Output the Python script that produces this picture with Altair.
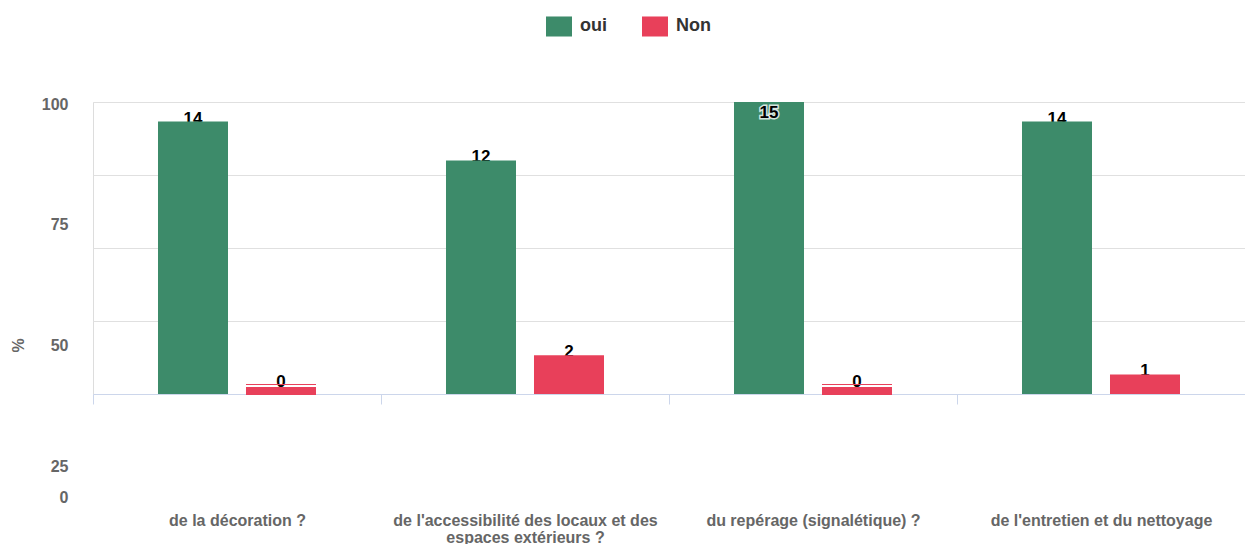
import altair as alt
import pandas as pd

categories = [
    "de la décoration ?",
    "de l'accessibilité des locaux et des\nespaces extérieurs ?",
    "du repérage (signalétique) ?",
    "de l'entretien et du nettoyage",
]
series = ["oui", "Non"]
oui_counts = [14, 12, 15, 14]
non_counts = [0, 2, 0, 1]
oui_pct = [93.3, 80.0, 100.0, 93.3]
non_pct = [0.0, 13.3, 0.0, 6.7]
y_ticks = [0, 25, 50, 75, 100]
colors = ["#3d8b6a", "#e8405a"]

rows = []
for i, c in enumerate(categories):
    rows.append({"cat": c, "serie": "oui", "count": oui_counts[i], "pct": oui_pct[i]})
    rows.append({"cat": c, "serie": "Non", "count": non_counts[i], "pct": non_pct[i]})
df = pd.DataFrame(rows)

FONT = "Liberation Sans"
GRAY = "#666666"

label_off = {
    "condition": [
        {"test": "datum.value == 75", "value": 49},
        {"test": "datum.value == 50", "value": 97},
        {"test": "datum.value == 25", "value": 145},
        {"test": "datum.value == 0", "value": 103},
    ],
    "value": 2,
}

x_enc = alt.X(
    "cat:N",
    sort=categories,
    scale=alt.Scale(paddingInner=0, paddingOuter=0),
    axis=alt.Axis(
        title=None,
        labelAngle=0,
        labelExpr="split(datum.label, '\\n')",
        labelFont=FONT,
        labelFontSize=16,
        labelFontWeight="bold",
        labelColor=GRAY,
        labelLineHeight=17,
        labelLimit=400,
        labelPadding=108,
        tickBand="extent",
        tickColor="#ccd6eb",
        tickSize=10,
        domainColor="#ccd6eb",
        grid=False,
    ),
)
xo_enc = alt.XOffset(
    "serie:N", sort=series, scale=alt.Scale(paddingInner=0.2045, paddingOuter=0.7386)
)
y_enc = alt.Y(
    "pct:Q",
    stack=None,
    scale=alt.Scale(domain=[0, 100], nice=False),
    axis=alt.Axis(
        values=y_ticks,
        title="%",
        titleX=-75,
        titleY=243,
        titleAngle=-90,
        titleAlign="center",
        titleBaseline="middle",
        titleFont=FONT,
        titleFontSize=16,
        titleFontWeight="bold",
        titleColor=GRAY,
        labelFont=FONT,
        labelFontSize=16,
        labelFontWeight="bold",
        labelColor=GRAY,
        labelPadding=25,
        labelOffset=label_off,
        ticks=False,
        domain=False,
        grid=True,
        gridColor="#e0e0e0",
    ),
)
color_enc = alt.Color(
    "serie:N",
    sort=series,
    scale=alt.Scale(domain=series, range=colors),
    legend=alt.Legend(
        title=None,
        orient="none",
        legendX=453,
        legendY=-89,
        direction="horizontal",
        symbolType="M-1,-0.77L1,-0.77L1,0.77L-1,0.77Z",
        symbolSize=676,
        symbolStrokeWidth=0,
        symbolOpacity=1,
        labelFont=FONT,
        labelFontSize=18,
        labelFontWeight="bold",
        labelColor="#333333",
        labelOffset=8,
        columnPadding=35,
        padding=0,
    ),
)

base = alt.Chart(df)
enc = dict(x=x_enc, xOffset=xo_enc, y=y_enc)

txt_style = dict(font=FONT, fontSize=17, fontWeight="bold", color="#000000",
                 baseline="alphabetic", align="center")

text_normal = base.transform_filter("datum.pct > 0 && datum.pct < 100").mark_text(
    dy=2, **txt_style
).encode(text="count:Q", **enc)
text_zero = base.transform_filter("datum.pct == 0").mark_text(
    dy=-7, **txt_style
).encode(text="count:Q", **enc)

bars = base.transform_filter("datum.pct > 0").mark_bar().encode(color=color_enc, **enc)
zero_bars = base.transform_filter("datum.pct == 0").mark_bar(yOffset=1, y2Offset=-7).encode(
    y2=alt.Y2("pct:Q"), color=color_enc, **enc
)
zero_line = base.transform_filter("datum.pct == 0").mark_bar(yOffset=-9, y2Offset=-10).encode(
    y2=alt.Y2("pct:Q"), color=color_enc, **enc
)

full_halo = base.transform_filter("datum.pct >= 100").mark_text(
    dy=16, stroke="white", strokeWidth=3, strokeOpacity=0.8, **txt_style
).encode(text="count:Q", **enc)
full_text = base.transform_filter("datum.pct >= 100").mark_text(
    dy=16, **txt_style
).encode(text="count:Q", **enc)

chart = alt.layer(
    text_normal, text_zero, bars, zero_bars, zero_line, full_halo, full_text
).properties(
    width=1152,
    height=292,
    autosize=alt.AutoSizeParams(type="none"),
    padding={"left": 85, "top": 94, "right": 0, "bottom": 150},
).configure_view(stroke=None).configure(background="white")

chart.save("out.html", embed_options={"renderer": "svg", "actions": False})
